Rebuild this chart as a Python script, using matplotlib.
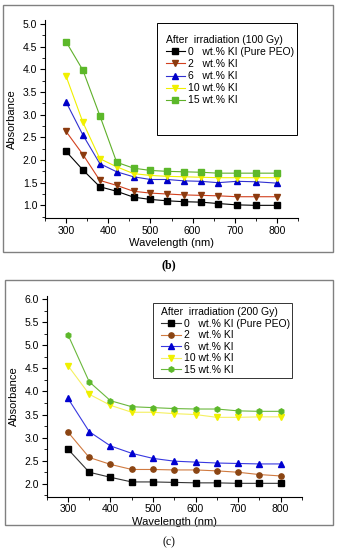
import matplotlib
matplotlib.use("Agg")
import matplotlib.pyplot as plt
from matplotlib.patches import Rectangle
from matplotlib.ticker import MultipleLocator

plt.rcParams['font.family'] = ['Liberation Sans', 'DejaVu Sans']

# ---- Panel (b): after irradiation 100 Gy ----
wl_b = [300, 340, 380, 420, 460, 500, 540, 580, 620, 660, 705, 750, 800]
b_0 = [2.19, 1.78, 1.41, 1.31, 1.18, 1.13, 1.10, 1.08, 1.07, 1.04, 1.01, 1.00, 1.00]
b_2 = [2.63, 2.12, 1.55, 1.44, 1.31, 1.27, 1.25, 1.23, 1.22, 1.21, 1.19, 1.19, 1.19]
b_6 = [3.28, 2.55, 1.92, 1.74, 1.63, 1.57, 1.57, 1.54, 1.53, 1.50, 1.53, 1.52, 1.49]
b_10 = [3.85, 2.83, 2.03, 1.85, 1.70, 1.66, 1.64, 1.63, 1.62, 1.61, 1.61, 1.61, 1.61]
b_15 = [4.61, 3.98, 2.98, 1.95, 1.82, 1.77, 1.75, 1.74, 1.73, 1.71, 1.71, 1.71, 1.71]

# ---- Panel (c): after irradiation 200 Gy ----
wl_c = [300, 350, 400, 450, 500, 550, 600, 650, 700, 750, 800]
c_0 = [2.75, 2.25, 2.14, 2.04, 2.04, 2.03, 2.02, 2.02, 2.01, 2.01, 2.01]
c_2 = [3.12, 2.57, 2.42, 2.31, 2.31, 2.30, 2.30, 2.28, 2.25, 2.20, 2.17]
c_6 = [3.85, 3.13, 2.82, 2.66, 2.55, 2.49, 2.47, 2.45, 2.44, 2.43, 2.43]
c_10 = [4.56, 3.94, 3.70, 3.55, 3.55, 3.52, 3.50, 3.44, 3.44, 3.45, 3.45]
c_15 = [5.23, 4.21, 3.80, 3.67, 3.65, 3.63, 3.62, 3.62, 3.58, 3.57, 3.57]

labels = ["0   wt.% KI (Pure PEO)", "2   wt.% KI", "6   wt.% KI",
          "10 wt.% KI", "15 wt.% KI"]
xticks = [300, 400, 500, 600, 700, 800]

fig = plt.figure(figsize=(3.37, 5.5), dpi=100)

# frames around the panels
fig.patches.append(Rectangle((0.009, 0.542), 0.979, 0.449, transform=fig.transFigure,
                             fill=False, edgecolor='#808080', lw=1.0))
fig.patches.append(Rectangle((0.015, 0.0455), 0.973, 0.4455, transform=fig.transFigure,
                             fill=False, edgecolor='#808080', lw=1.0))


def style_axes(ax, ylim, ymaj):
    ax.set_xlim(250, 850)
    ax.set_ylim(*ylim)
    ax.set_xticks(xticks)
    ax.xaxis.set_minor_locator(MultipleLocator(50))
    ax.yaxis.set_major_locator(MultipleLocator(ymaj))
    ax.yaxis.set_minor_locator(MultipleLocator(ymaj / 2))
    ax.yaxis.set_major_formatter(matplotlib.ticker.FormatStrFormatter('%.1f'))
    for s in ['top', 'right']:
        ax.spines[s].set_visible(False)
    for s in ['left', 'bottom']:
        ax.spines[s].set_linewidth(0.8)
    ax.tick_params(which='major', direction='out', length=3.5, width=0.8,
                   labelsize=7.5, pad=2)
    ax.tick_params(which='minor', direction='out', length=2, width=0.6)
    ax.set_xlabel("Wavelength (nm)", fontsize=8, labelpad=2)
    ax.set_ylabel("Absorbance", fontsize=8, labelpad=4)


# ----- top panel -----
ax1 = fig.add_axes([0.1335, 0.6036, 0.751, 0.36])
series_b = [
    (b_0, 'k', 'k', 's'),
    (b_2, '#d2401e', '#8b3a0e', 'v'),
    (b_6, '#3030d0', '#0000c8', '^'),
    (b_10, '#f0f000', '#f0f000', 'v'),
    (b_15, '#5fb02a', '#5cb82a', 's'),
]
hs = []
for (vals, lc, mc, mk), lab in zip(series_b, labels):
    h, = ax1.plot(wl_b, vals, color=lc, lw=0.8, marker=mk, ms=3.8,
                  mfc=mc, mec=mc, label=lab)
    hs.append(h)
style_axes(ax1, (0.72, 5.09), 0.5)
leg1 = ax1.legend(handles=hs, title="After  irradiation (100 Gy)", loc='upper left',
                  bbox_to_anchor=(0.468, 0.935), frameon=False, fontsize=7.5,
                  title_fontsize=7.5, labelspacing=0.2, handlelength=1.9,
                  handletextpad=0.3, borderpad=0.2, borderaxespad=0)
leg1._legend_box.align = "left"
ax1.add_patch(Rectangle((0.443, 0.417), 0.553, 0.566, transform=ax1.transAxes,
                        fill=False, edgecolor='k', lw=0.7, clip_on=False))

# ----- bottom panel -----
ax2 = fig.add_axes([0.1386, 0.0969, 0.757, 0.365])
series_c = [
    (c_0, '#333333', 'k', 's'),
    (c_2, '#d07a40', '#8b4513', 'o'),
    (c_6, '#3838e0', '#0000d0', '^'),
    (c_10, '#f5f060', '#f0f000', 'v'),
    (c_15, '#6ab83c', '#5cb82a', 'h'),
]
hs2 = []
for (vals, lc, mc, mk), lab in zip(series_c, labels):
    h, = ax2.plot(wl_c, vals, color=lc, lw=0.8, marker=mk, ms=3.8,
                  mfc=mc, mec=mc, label=lab)
    hs2.append(h)
style_axes(ax2, (1.72, 6.07), 0.5)
leg2 = ax2.legend(handles=hs2, title="After  irradiation (200 Gy)", loc='upper left',
                  bbox_to_anchor=(0.44, 0.955), frameon=False, fontsize=7.5,
                  title_fontsize=7.5, labelspacing=0.15, handlelength=1.9,
                  handletextpad=0.3, borderpad=0.2, borderaxespad=0)
leg2._legend_box.align = "left"
ax2.add_patch(Rectangle((0.417, 0.592), 0.545, 0.373, transform=ax2.transAxes,
                        fill=False, edgecolor='#333333', lw=0.7, clip_on=False))

fig.text(0.5, 1 - 265 / 550, "(b)", ha='center', va='center', fontsize=8.5,
         family=['Liberation Serif', 'DejaVu Serif'], fontweight='bold')
fig.text(0.5, 1 - 542 / 550, "(c)", ha='center', va='center', fontsize=8.5,
         family=['Liberation Serif', 'DejaVu Serif'])

fig.savefig("out.png", dpi=100)
